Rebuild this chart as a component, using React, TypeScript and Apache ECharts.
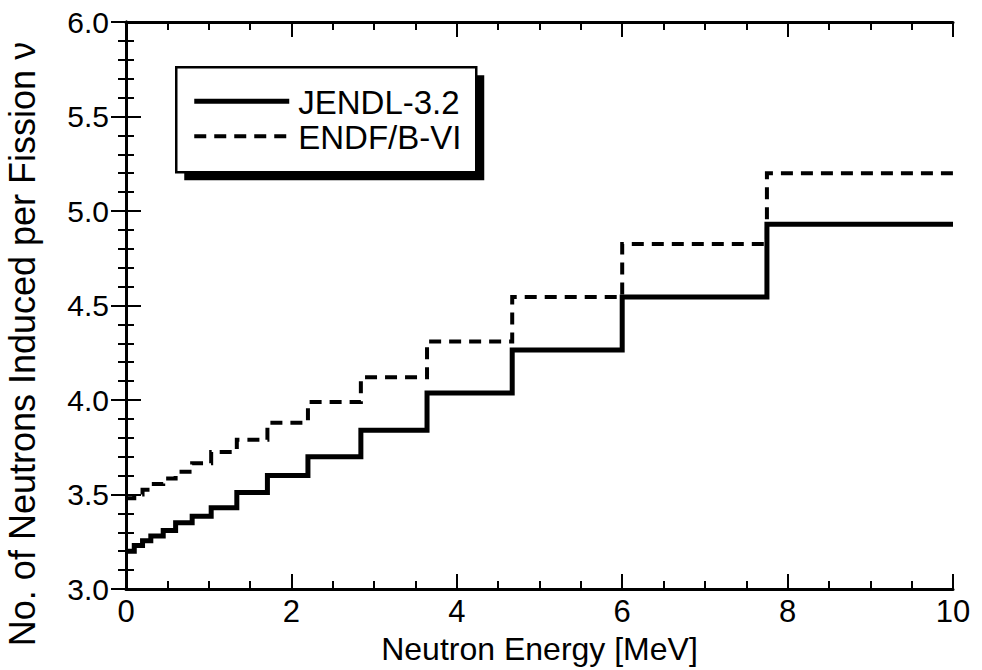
import React, { useEffect, useRef } from "react";
import * as echarts from "echarts";

// Energy-group boundaries [MeV] and step values (value i holds on [edge i, edge i+1])
const energyEdges = [0, 0.1, 0.2, 0.3, 0.45, 0.6, 0.8, 1.03, 1.34, 1.71, 2.2, 2.84, 3.64, 4.67, 6.0, 7.75, 10];
const jendlValues = [3.2, 3.23, 3.255, 3.28, 3.31, 3.35, 3.385, 3.43, 3.51, 3.6, 3.7, 3.84, 4.037, 4.265, 4.545, 4.93];
const endfValues = [3.48, 3.5, 3.525, 3.555, 3.585, 3.62, 3.665, 3.725, 3.79, 3.88, 3.99, 4.12, 4.31, 4.545, 4.825, 5.2];

const seriesNames = ["JENDL-3.2", "ENDF/B-VI"];
const xTitle = "Neutron Energy [MeV]";
const yTitle = "No. of Neutrons Induced per Fission ν";

const FONT = "'Liberation Sans', Arial, Helvetica, sans-serif";

function stepData(values: number[]) {
  const pts: number[][] = values.map((v, i) => [energyEdges[i], v]);
  pts.push([energyEdges[energyEdges.length - 1], values[values.length - 1]]);
  return pts;
}

export default function App() {
  const ref = useRef<HTMLDivElement>(null);
  useEffect(() => {
    if (!ref.current) return;
    const chart = echarts.init(ref.current, null, { renderer: "svg" });
    const axisLine = { show: true, lineStyle: { color: "#000", width: 3 } };
    const tick = { show: true, inside: true, length: 15, lineStyle: { color: "#000", width: 2 } };
    const minorTick = (n: number) => ({ show: true, splitNumber: n, length: 8, lineStyle: { color: "#000", width: 2 } });
    const xCommon = {
      type: "value" as const,
      min: 0,
      max: 10,
      interval: 2,
      axisLine,
      axisTick: tick,
      minorTick: minorTick(4),
      splitLine: { show: false },
    };
    const yCommon = {
      type: "value" as const,
      min: 3,
      max: 6,
      interval: 0.5,
      axisLine,
      axisTick: tick,
      minorTick: minorTick(5),
      splitLine: { show: false },
    };
    chart.setOption({
      animation: false,
      backgroundColor: "#fff",
      grid: { left: 126, right: 29, top: 22, bottom: 81, containLabel: false },
      xAxis: [
        {
          ...xCommon,
          position: "bottom",
          axisLabel: { show: true, color: "#000", fontSize: 31, fontFamily: FONT, margin: 7 },
          name: xTitle,
          nameLocation: "middle",
          nameGap: 44,
          nameTextStyle: { color: "#000", fontSize: 32, fontFamily: FONT },
        },
        { ...xCommon, position: "top", axisLabel: { show: false } },
      ],
      yAxis: [
        {
          ...yCommon,
          position: "left",
          axisLabel: {
            show: true,
            color: "#000",
            fontSize: 30,
            fontFamily: FONT,
            margin: 17,
            formatter: (v: number) => v.toFixed(1),
          },
        },
        { ...yCommon, position: "right", axisLabel: { show: false } },
      ],
      series: [
        {
          name: seriesNames[0],
          type: "line",
          step: "end",
          showSymbol: false,
          data: stepData(jendlValues),
          lineStyle: { color: "#000", width: 5, type: "solid", cap: "butt", join: "miter" },
          z: 3,
        },
        {
          name: seriesNames[1],
          type: "line",
          step: "end",
          showSymbol: false,
          data: stepData(endfValues),
          lineStyle: { color: "#000", width: 4, type: [12, 8], cap: "butt", join: "miter" },
          z: 2,
        },
      ],
      graphic: [
        {
          type: "text",
          x: 22,
          y: 344,
          rotation: Math.PI / 2,
          style: {
            text: yTitle,
            fontSize: 36,
            fontFamily: FONT,
            fill: "#000",
            align: "center",
            verticalAlign: "middle",
          },
        },
        {
          type: "group",
          left: 175,
          top: 66,
          children: [
            { type: "rect", shape: { x: 8, y: 8, width: 300, height: 105 }, style: { fill: "#000" } },
            {
              type: "rect",
              shape: { x: 0, y: 0, width: 300, height: 105 },
              style: { fill: "#fff", stroke: "#000", lineWidth: 2.5 },
            },
            {
              type: "line",
              shape: { x1: 18, y1: 34, x2: 113, y2: 34 },
              style: { stroke: "#000", lineWidth: 5 },
            },
            {
              type: "line",
              shape: { x1: 18, y1: 69, x2: 113, y2: 69 },
              style: { stroke: "#000", lineWidth: 4, lineDash: [12, 8] },
            },
            {
              type: "text",
              x: 122,
              y: 35,
              style: { text: seriesNames[0], fontSize: 33, fontFamily: FONT, fill: "#000", verticalAlign: "middle" },
            },
            {
              type: "text",
              x: 122,
              y: 70,
              style: { text: seriesNames[1], fontSize: 33, fontFamily: FONT, fill: "#000", verticalAlign: "middle" },
            },
          ],
        },
      ],
    });
    return () => chart.dispose();
  }, []);
  return (
    <div
      ref={ref}
      style={{ position: "fixed", left: 0, top: 0, width: 982, height: 670, background: "#fff" }}
    />
  );
}
